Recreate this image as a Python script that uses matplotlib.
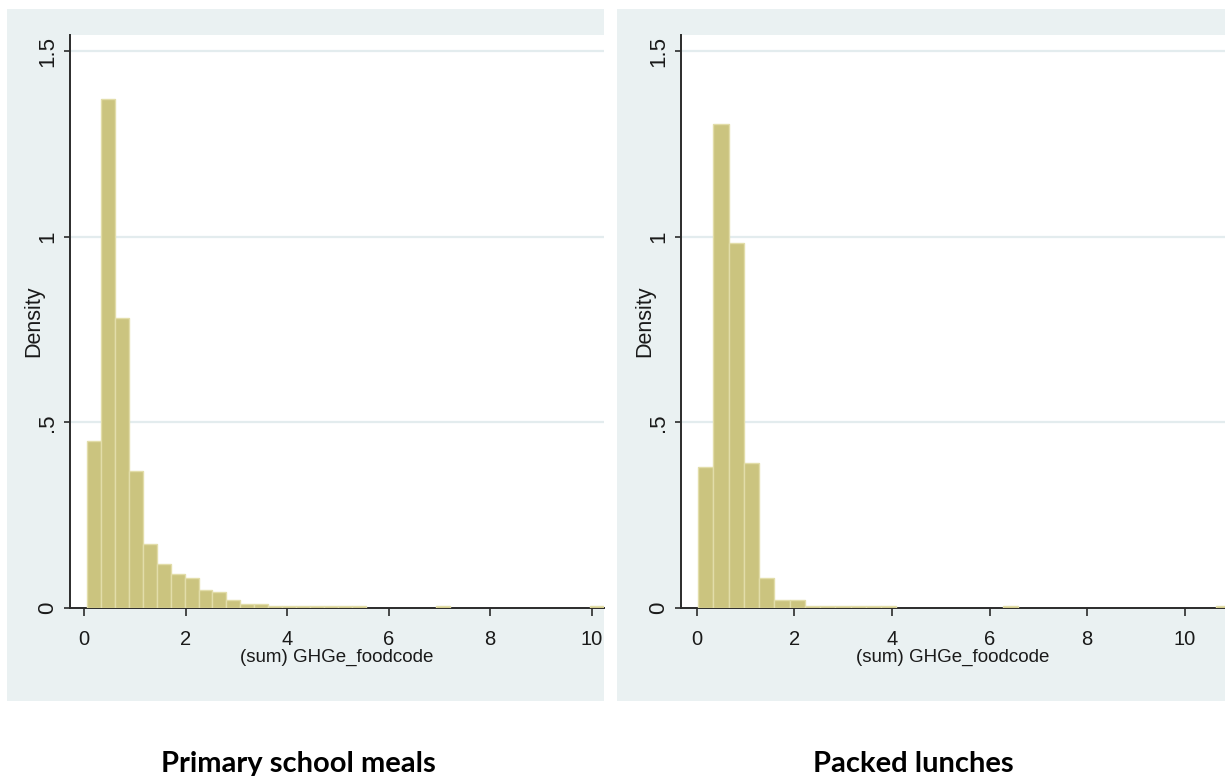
import numpy as np
import matplotlib
matplotlib.use("Agg")
import matplotlib.pyplot as plt
from matplotlib.patches import Rectangle

# Histogram of summed GHGe per food code, by lunch type (density scale)
school_bin_start = 0.052
school_bin_width = 0.2755
school_density = [0.450, 1.371, 0.781, 0.368, 0.173, 0.118, 0.091, 0.081,
                  0.049, 0.042, 0.021, 0.010, 0.010, 0.005, 0.005, 0.005,
                  0.005, 0.005, 0.005, 0.005, 0.0, 0.0, 0.0, 0.0,
                  0.0, 0.005, 0.0, 0.0, 0.0, 0.0, 0.0, 0.0,
                  0.0, 0.0, 0.0, 0.0, 0.005]

packed_bin_start = 0.025
packed_bin_width = 0.3125
packed_density = [0.379, 1.303, 0.984, 0.390, 0.082, 0.022, 0.022, 0.005,
                  0.005, 0.005, 0.005, 0.005, 0.005, 0.0, 0.0, 0.0,
                  0.0, 0.0, 0.0, 0.0, 0.005, 0.0, 0.0, 0.0,
                  0.0, 0.0, 0.0, 0.0, 0.0, 0.0, 0.0, 0.0,
                  0.0, 0.0, 0.005]

panel_titles = ["Primary school meals", "Packed lunches"]
x_label = "(sum) GHGe_foodcode"
y_label = "Density"
y_ticks = [0, 0.5, 1, 1.5]
y_tick_labels = ["0", ".5", "1", "1.5"]
school_x_ticks = [0, 2, 4, 6, 8, 10]
packed_x_ticks = [0, 2, 4, 6, 8, 10]

BG = "#EAF1F2"
GRID = "#E3ECEE"
BAR = "#CBC47F"
BAR_EDGE = "#E2DDA9"
AXIS = "#2b2b2b"

W, H = 1225, 776
fig = plt.figure(figsize=(W / 100, H / 100), dpi=100)
fig.patch.set_facecolor("white")


def fx(px):
    return px / W


def fy(py):
    return 1 - py / H


# graph-region backgrounds
for x0, x1 in [(7, 604), (617, 1225)]:
    fig.patches.append(Rectangle((fx(x0), fy(701)), fx(x1 - x0), (701 - 9) / H,
                                 transform=fig.transFigure, facecolor=BG,
                                 edgecolor="none", zorder=-10))

sans = ["Liberation Sans", "DejaVu Sans"]


def draw_panel(rect_px, start, width, dens, xlim, xticks):
    x0, x1 = rect_px
    ax = fig.add_axes([fx(x0), fy(608), fx(x1 - x0), (608 - 35) / H])
    ax.set_zorder(1)
    ax.set_facecolor("white")
    dens = np.asarray(dens, dtype=float)
    lefts = start + width * np.arange(len(dens))
    keep = dens > 0
    ax.bar(lefts[keep], dens[keep], width=width, align="edge",
           color=BAR, edgecolor=BAR_EDGE, linewidth=1.0, zorder=3)
    ax.set_xlim(*xlim)
    ax.set_ylim(0, 1.544)
    ax.set_yticks(y_ticks)
    ax.set_yticklabels(y_tick_labels, rotation=90, va="center",
                       family=sans, fontsize=16)
    ax.set_xticks(xticks)
    ax.set_xticklabels([str(t) for t in xticks], family=sans, fontsize=14.5)
    for y in y_ticks[1:]:
        ax.axhline(y, color=GRID, linewidth=1.6, zorder=1)
    for s in ["top", "right"]:
        ax.spines[s].set_visible(False)
    for s in ["left", "bottom"]:
        ax.spines[s].set_color(AXIS)
        ax.spines[s].set_linewidth(1.4)
    ax.tick_params(axis="x", length=6, width=1.2, color=AXIS, pad=10,
                   labelcolor="#1a1a1a")
    ax.tick_params(axis="y", length=4.5, width=1.2, color=AXIS, pad=4,
                   labelcolor="#1a1a1a")
    ax.set_xlabel(x_label, family=sans, fontsize=13.5, labelpad=0,
                  color="#1a1a1a")
    ax.set_ylabel(y_label, family=sans, fontsize=15.5, labelpad=-5,
                  color="#1a1a1a")
    return ax


draw_panel((70, 604), school_bin_start, school_bin_width, school_density,
           (-0.276, 10.246), school_x_ticks)
draw_panel((681, 1225), packed_bin_start, packed_bin_width, packed_density,
           (-0.328, 10.83), packed_x_ticks)

for cx, title in zip([298, 913], panel_titles):
    fig.text(fx(cx), fy(772), title, ha="center", va="baseline",
             family=["Lato", "DejaVu Sans"], fontweight="bold", fontsize=21,
             color="black")

fig.savefig("out.png", dpi=100, facecolor="white")
